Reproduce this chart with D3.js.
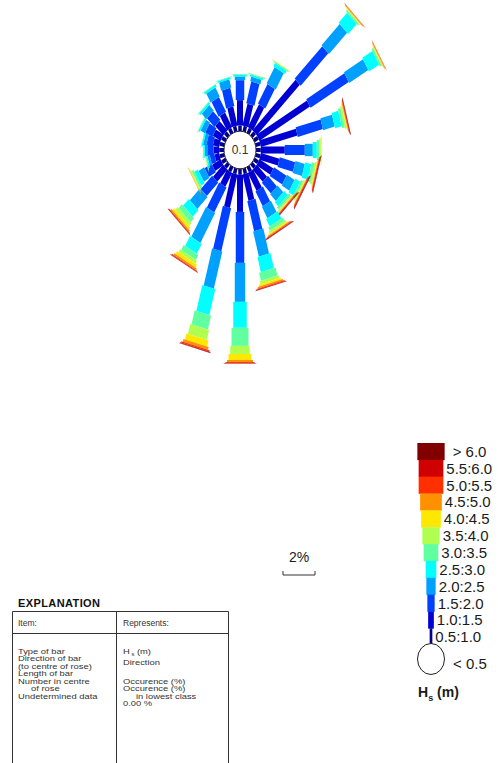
<!DOCTYPE html>
<html lang="en">
<head>
<meta charset="UTF-8" />
<title>Wave rose - Hs</title>
<script src="https://d3js.org/d3.v7.min.js"></script>
<style>
  body { margin: 0; background: #fff; }
  svg { display: block; font-family: "Liberation Sans", Arial, sans-serif; }
</style>
</head>
<body>
<svg id="chart" width="498" height="763"></svg>
<script>
// wave height classes, lowest first (the < 0.5 class is the number in the centre)
const classes = ["0.5:1.0", "1.0:1.5", "1.5:2.0", "2.0:2.5", "2.5:3.0", "3.0:3.5",
                 "3.5:4.0", "4.0:4.5", "4.5:5.0", "5.0:5.5", "5.5:6.0", "> 6.0"];
const directions = d3.range(0, 360, 15);
const centreValue = "0.1";

// occurrence (%) per direction, one value per class
const dir000 = [0.3, 1.35, 1.06, 0.2, 0.1, 0.03, 0, 0, 0, 0, 0, 0];
const dir015 = [0.3, 1.2, 1.2, 0.25, 0.1, 0.04, 0.02, 0, 0, 0, 0, 0];
const dir030 = [0.3, 1.4, 1.2, 1.0, 0.2, 0.06, 0.03, 0.01, 0, 0, 0, 0];
const dir045 = [0.3, 3.8, 2.44, 1.6, 0.75, 0.1, 0.05, 0.03, 0.05, 0.02, 0, 0];
const dir060 = [0.3, 3.64, 2.75, 1.38, 0.72, 0.12, 0.05, 0.03, 0.05, 0.02, 0, 0];
const dir075 = [0.3, 2.37, 1.62, 0.75, 0.43, 0.17, 0.1, 0.05, 0.03, 0.03, 0.04, 0.02];
const dir090 = [0.3, 1.5, 1.25, 0.5, 0.25, 0.15, 0.1, 0.03, 0.01, 0, 0, 0];
const dir105 = [0.3, 1.2, 1.0, 0.6, 0.4, 0.2, 0.1, 0.05, 0.03, 0.04, 0.05, 0.03];
const dir120 = [0.3, 1.0, 0.9, 0.55, 0.35, 0.15, 0.08, 0.04, 0.03, 0.04, 0.05, 0.03];
const dir135 = [0.3, 0.9, 0.8, 0.5, 0.3, 0.15, 0.08, 0.04, 0.03, 0.04, 0.05, 0.02];
const dir150 = [0.3, 1.1, 0.9, 0.7, 0.45, 0.2, 0.12, 0.06, 0.04, 0.04, 0.04, 0.02];
const dir165 = [0.3, 1.45, 1.65, 1.38, 0.83, 0.44, 0.17, 0.1, 0.08, 0.05, 0.03, 0.02];
const dir180 = [0.32, 1.97, 2.71, 2.07, 1.38, 0.96, 0.43, 0.32, 0.11, 0.05, 0.02, 0.01];
const dir195 = [0.3, 1.84, 2.36, 2.04, 1.43, 0.77, 0.55, 0.33, 0.15, 0.07, 0.04, 0.02];
const dir210 = [0.3, 0.85, 1.53, 1.84, 0.61, 0.31, 0.18, 0.18, 0.1, 0.05, 0.03, 0.01];
const dir225 = [0.3, 0.9, 1.0, 0.9, 0.5, 0.3, 0.2, 0.15, 0.08, 0.04, 0.03, 0.01];
const dir240 = [0.3, 0.6, 0.5, 0.4, 0.25, 0.12, 0.07, 0.04, 0.02, 0, 0, 0];
const dir255 = [0.3, 0.3, 0.3, 0.15, 0.08, 0.05, 0.03, 0, 0, 0, 0, 0];
const dir270 = [0.3, 0.35, 0.35, 0.2, 0.08, 0.04, 0, 0, 0, 0, 0, 0];
const dir285 = [0.3, 0.4, 0.4, 0.2, 0.08, 0.03, 0, 0, 0, 0, 0, 0];
const dir300 = [0.3, 0.55, 0.5, 0.3, 0.1, 0.04, 0, 0, 0, 0, 0, 0];
const dir315 = [0.3, 0.7, 0.65, 0.4, 0.12, 0.04, 0, 0, 0, 0, 0, 0];
const dir330 = [0.3, 0.9, 0.9, 0.55, 0.12, 0.03, 0, 0, 0, 0, 0, 0];
const dir345 = [0.3, 1.05, 1.0, 0.45, 0.1, 0.03, 0, 0, 0, 0, 0, 0];

const occurrence = [dir000, dir015, dir030, dir045, dir060, dir075, dir090, dir105,
                    dir120, dir135, dir150, dir165, dir180, dir195, dir210, dir225,
                    dir240, dir255, dir270, dir285, dir300, dir315, dir330, dir345];

// styling
const colors = ["#00008c", "#0000d2", "#0040ff", "#00a0ff", "#00ffff", "#60ffa0",
                "#b0ff50", "#ffe800", "#ff9000", "#ff3000", "#d00000", "#800000"];
const barWidth = [3.5, 6, 8.5, 10.5, 13.5, 17, 19.5, 23, 26, 29, 31, 33];
const legendWidth = [2.7, 5.7, 7.3, 9.3, 10.7, 14.7, 17.3, 19.7, 21.7, 24.7, 24.7, 27.3];

const svg = d3.select("#chart");

// ---- rose ----
const cx = 240, cy = 150, stretch = 1.176;
const radius = d3.scaleLinear().domain([0, 1]).range([16, 32]);   // 1 % = 16 px
const angle = d3.scaleLinear().domain([0, 360]).range([0, 2 * Math.PI]);

const rose = svg.append("g")
  .attr("transform", `translate(${cx},${cy}) scale(1,${stretch})`);

directions.forEach((dir, i) => {
  const a = angle(dir);
  const ux = Math.sin(a), uy = -Math.cos(a);
  const px = -uy, py = ux;
  let acc = 0;
  occurrence[i].forEach((v, k) => {
    if (!v) return;
    const r0 = radius(acc), r1 = radius(acc + v);
    acc += v;
    const hw = barWidth[k] / 2;
    const pts = [[r0, -hw], [r1, -hw], [r1, hw], [r0, hw]]
      .map(([rr, w]) => [rr * ux + w * px, rr * uy + w * py].map(n => n.toFixed(2)).join(","));
    rose.append("polygon")
      .attr("points", pts.join(" "))
      .attr("fill", colors[k]);
  });
});

svg.append("ellipse")
  .attr("cx", cx).attr("cy", cy)
  .attr("rx", radius(0)).attr("ry", radius(0) * stretch)
  .attr("fill", "#fff")
  .attr("stroke", "#222")
  .attr("stroke-width", 1);

svg.append("text")
  .attr("x", cx).attr("y", cy + 4)
  .attr("text-anchor", "middle")
  .attr("font-size", "12px")
  .attr("fill", "#333")
  .text(centreValue);

// ---- scale bar (2 %) ----
const scaleX = 283, scaleY = 575;
const barLen = radius(2) - radius(0);
svg.append("text")
  .attr("x", scaleX + barLen / 2).attr("y", 562)
  .attr("text-anchor", "middle")
  .attr("font-size", "14px")
  .attr("fill", "#222")
  .text("2%");
svg.append("path")
  .attr("d", `M${scaleX},${scaleY - 4}V${scaleY}H${scaleX + barLen}V${scaleY - 4}`)
  .attr("fill", "none")
  .attr("stroke", "#333")
  .attr("stroke-width", 1);

// ---- legend ----
const lx = 431;
const rows = classes.slice().reverse();
const rowY = d3.scaleBand().domain(rows).range([443, 645.2]);
const legend = svg.append("g");

rows.forEach(c => {
  const k = classes.indexOf(c);
  const w = legendWidth[k];
  legend.append("rect")
    .attr("x", lx - w / 2).attr("y", rowY(c))
    .attr("width", w).attr("height", rowY.bandwidth() + 0.3)
    .attr("fill", colors[k]);
  legend.append("text")
    .attr("x", lx + w / 2 + (c.startsWith(">") ? 8 : 3))
    .attr("y", rowY(c) + rowY.bandwidth() / 2 + 5.5)
    .attr("font-size", "15px")
    .attr("fill", "#1a1a1a")
    .text(c);
});

legend.append("ellipse")
  .attr("cx", lx).attr("cy", 659)
  .attr("rx", 13.5).attr("ry", 15.5)
  .attr("fill", "#fff")
  .attr("stroke", "#222")
  .attr("stroke-width", 1);
legend.append("text")
  .attr("x", 453).attr("y", 669)
  .attr("font-size", "15px")
  .attr("fill", "#1a1a1a")
  .text("< 0.5");

const hsLabel = legend.append("text")
  .attr("x", 418).attr("y", 697)
  .attr("font-size", "14px")
  .attr("font-weight", "bold")
  .attr("fill", "#1a1a1a");
hsLabel.append("tspan").text("H");
hsLabel.append("tspan").attr("dy", 4).attr("font-size", "9px").text("s");
hsLabel.append("tspan").attr("dy", -4).text(" (m)");

// ---- explanation box ----
const box = svg.append("g");
box.append("text")
  .attr("x", 18).attr("y", 607)
  .attr("font-size", "11px")
  .attr("font-weight", "bold")
  .attr("letter-spacing", "0.4px")
  .attr("fill", "#111")
  .text("EXPLANATION");

box.append("path")
  .attr("d", "M12.5,763V611.5H228.5V763M12.5,633.5H228.5M116.5,611.5V763")
  .attr("fill", "none")
  .attr("stroke", "#333")
  .attr("stroke-width", 1);

const itemLines = [
  ["Type of bar", 0, 654], ["Direction of bar", 0, 661.5], ["(to centre of rose)", 0, 669],
  ["Length of bar", 0, 676.5], ["Number in centre", 0, 684], ["of rose", 10, 691.5],
  ["Undetermined data", 0, 699]
];
const reprLines = [
  ["Direction", 0, 665], ["Occurence (%)", 0, 684], ["Occurence (%)", 0, 691.5],
  ["in lowest class", 10, 699], ["0.00 %", 0, 706.5]
];

function column(x, header, lines) {
  box.append("text")
    .attr("x", x).attr("y", 626)
    .attr("font-size", "8.5px").attr("fill", "#333")
    .text(header);
  const g = box.append("g").attr("transform", `translate(${x},0) scale(1.3,1)`);
  lines.forEach(([t, dx, y]) => {
    g.append("text")
      .attr("x", dx).attr("y", y)
      .attr("font-size", "7.2px").attr("fill", "#333")
      .text(t);
  });
  return g;
}

column(18, "Item:", itemLines);
const repr = column(123, "Represents:", reprLines);
const hs = repr.append("text")
  .attr("x", 0).attr("y", 654)
  .attr("font-size", "7.2px").attr("fill", "#333");
hs.append("tspan").text("H");
hs.append("tspan").attr("dy", 2.2).attr("font-size", "4.5px").text(" s");
hs.append("tspan").attr("dy", -2.2).text(" (m)");
</script>
</body>
</html>
